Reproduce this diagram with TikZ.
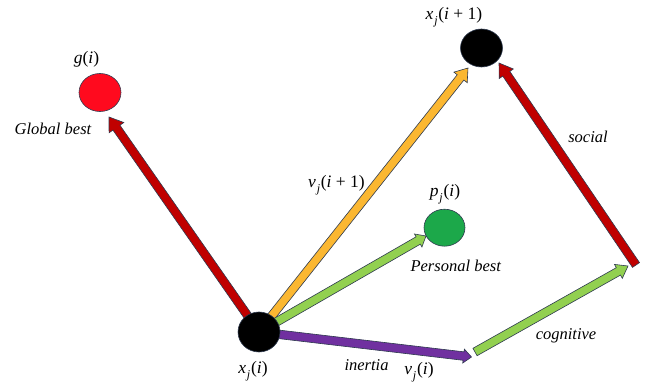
\documentclass[tikz,border=0pt]{standalone}
\usepackage{fontspec}
\setmainfont{Liberation Serif}
\usetikzlibrary{calc}
\definecolor{arrred}{HTML}{C00000}
\definecolor{arrgold}{HTML}{FBB731}
\definecolor{arrgreen}{HTML}{92D050}
\definecolor{arrpurple}{HTML}{7030A0}
\definecolor{cred}{HTML}{FF0A1E}
\definecolor{cgreen}{HTML}{1CA84A}
\definecolor{outl}{HTML}{2E3A4F}
\newcommand\blockarrow[5]{%
  \coordinate (bh) at ($(#2)!#4pt!(#1)$);
  \filldraw[arrowline, fill=#3]
    ($(#1)!4.25pt!90:(#2)$) -- ($(bh)!4.25pt!90:(#2)$) -- ($(bh)!#5pt!90:(#2)$) --
    (#2) --
    ($(bh)!#5pt!-90:(#2)$) -- ($(bh)!4.25pt!-90:(#2)$) -- ($(#1)!4.25pt!-90:(#2)$) -- cycle;
}
% subscript set in text italics
\newcommand\sv[1]{\kern0.8pt\raisebox{-0.28em}{\fontsize{12}{13}\selectfont\textit{#1}}\kern0.8pt}
\begin{document}
\begin{tikzpicture}[x=1pt,y=-1pt,
  arrowline/.style={draw=outl, line width=0.6pt},
  lbl/.style={inner sep=1pt, font=\fontsize{16.5}{19}\selectfont\itshape},
  mlbl/.style={inner sep=1pt, font=\fontsize{17.5}{20}\selectfont}]
\useasboundingbox (0,0) rectangle (649,385);
% node centres
\coordinate (xic) at (259,332);
\coordinate (xi1c) at (481.5,48);
\coordinate (gc) at (100,92.5);
\coordinate (pc) at (444.5,227.7);
% arrow tips and free ends
\coordinate (tipg) at (109,117);
\coordinate (tipxi1) at (468,68);
\coordinate (tipp) at (426,236);
\coordinate (tipv) at (471.5,357);
\coordinate (cogs) at (475,352);
\coordinate (cogt) at (628,266);
\coordinate (socs) at (636,265);
\coordinate (soct) at (499,63);
% arrows
\blockarrow{xic}{tipg}{arrred}{13}{9}
\blockarrow{xic}{tipxi1}{arrgold}{12}{8.5}
\blockarrow{xic}{tipp}{arrgreen}{9}{7.5}
\blockarrow{xic}{tipv}{arrpurple}{8}{7}
\blockarrow{cogs}{cogt}{arrgreen}{11}{8}
\blockarrow{socs}{soct}{arrred}{13}{8.5}
% circles
\filldraw[fill=cred, draw=outl, line width=0.6pt] (gc) ellipse [x radius=21, y radius=19];
\filldraw[fill=cgreen, draw=outl, line width=0.6pt] (pc) ellipse [x radius=20.5, y radius=18.5];
\filldraw[fill=black, draw=outl, line width=0.6pt] (xic) ellipse [x radius=21, y radius=20];
\filldraw[fill=black, draw=outl, line width=0.6pt] (xi1c) ellipse [x radius=21, y radius=19];
\node (g) at (gc) {};
\node (p) at (pc) {};
\node (xi) at (xic) {};
\node (xi1) at (xi1c) {};
% labels
\node[mlbl] (lg) at (86.5,59) {\textit{g}(\textit{i})};
\node[lbl] (lgb) at (53,129) {Global best};
\node[mlbl] (lxi1) at (454,17) {\textit{x}\sv{j}(\textit{i} + 1)};
\node[mlbl] (lv1) at (336.5,185) {\textit{v}\sv{j}(\textit{i} + 1)};
\node[mlbl] (lp) at (445,194) {\textit{p}\sv{j}(\textit{i})};
\node[lbl] (lpb) at (455.7,266) {Personal best};
\node[mlbl] (lxi) at (253,371) {\textit{x}\sv{j}(\textit{i})};
\node[lbl] (lin) at (366.5,365) {inertia};
\node[mlbl] (lv) at (419,372) {\textit{v}\sv{j}(\textit{i})};
\node[lbl] (lcog) at (566,336) {cognitive};
\node[lbl] (lsoc) at (588,137) {social};
\end{tikzpicture}
\end{document}
